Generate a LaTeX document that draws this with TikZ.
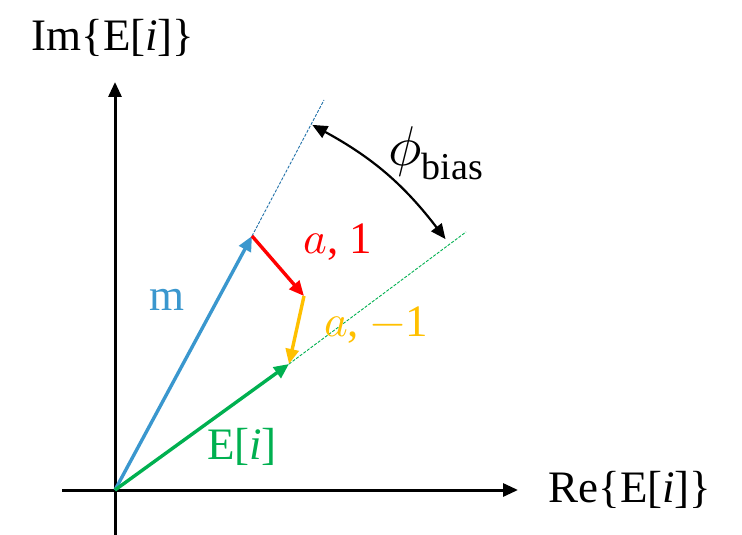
\documentclass[tikz,border=0pt]{standalone}
\usepackage{unicode-math}
\setmainfont{Liberation Serif}
\setmathfont{Latin Modern Math}
\usetikzlibrary{arrows.meta}
\definecolor{cblue}{HTML}{3A97CE}
\definecolor{cdblue}{HTML}{2070A8}
\definecolor{cred}{HTML}{FF0000}
\definecolor{cyel}{HTML}{FFC000}
\definecolor{cgreen}{HTML}{00B050}
\tikzset{
  tip/.tip={Triangle[length=15pt,width=13pt]},
  vec/.style={line width=3.4pt,-tip},
  axis/.style={line width=3pt,-tip},
  guide/.style={line width=0.9pt,dashed,dash pattern=on 3pt off 1.5pt},
  lbl/.style={font=\fontsize{45}{52}\selectfont,inner sep=0pt},
  angarrow/.style={line width=2.2pt,black,tip-tip}
}
\begin{document}
\begin{tikzpicture}[x=1pt,y=-1pt]
\useasboundingbox (0,0) rectangle (742,535);
\coordinate (O) at (115,490);
\coordinate (xs) at (62,490);
\coordinate (xe) at (518,490);
\coordinate (ys) at (115,535);
\coordinate (ye) at (115,82);
\coordinate (M) at (252,236);
\coordinate (Mext) at (324,100);
\coordinate (R) at (304,296);
\coordinate (E) at (289,364);
\coordinate (Eext) at (466,232);
\coordinate (A1) at (312.3,124.9);
\coordinate (A2) at (445.5,239.1);
\draw[axis] (xs) -- (xe);
\draw[axis] (ys) -- (ye);
\draw[guide,cdblue] (M) -- (Mext);
\draw[guide,cgreen] (E) -- (Eext);
\draw[vec,cblue] (O) -- (M);
\draw[vec,cgreen] (O) -- (E);
\draw[vec,cred] (M) -- (R);
\draw[vec,cyel] (R) -- (E);
\draw[angarrow] (A1) to[bend left=12] (A2);
\node[lbl] (im) at (113,38) {Im\{E[\textit{i}]\}};
\node[lbl] (re) at (630,490) {Re\{E[\textit{i}]\}};
\node[lbl,cblue] (m) at (167,300) {m};
\node[lbl,cgreen] (ei) at (242,447) {E[\textit{i}]};
\node[lbl,cred] (a1) at (338,242) {$a$, 1};
\node[lbl,cyel] (a2) at (376,325) {$a$, $-$1};
\node[lbl,font=\fontsize{56}{60}\selectfont] (phi) at (436,153) {$\phi_{\textup{\fontsize{38}{40}\selectfont bias}}$};
\end{tikzpicture}
\end{document}
